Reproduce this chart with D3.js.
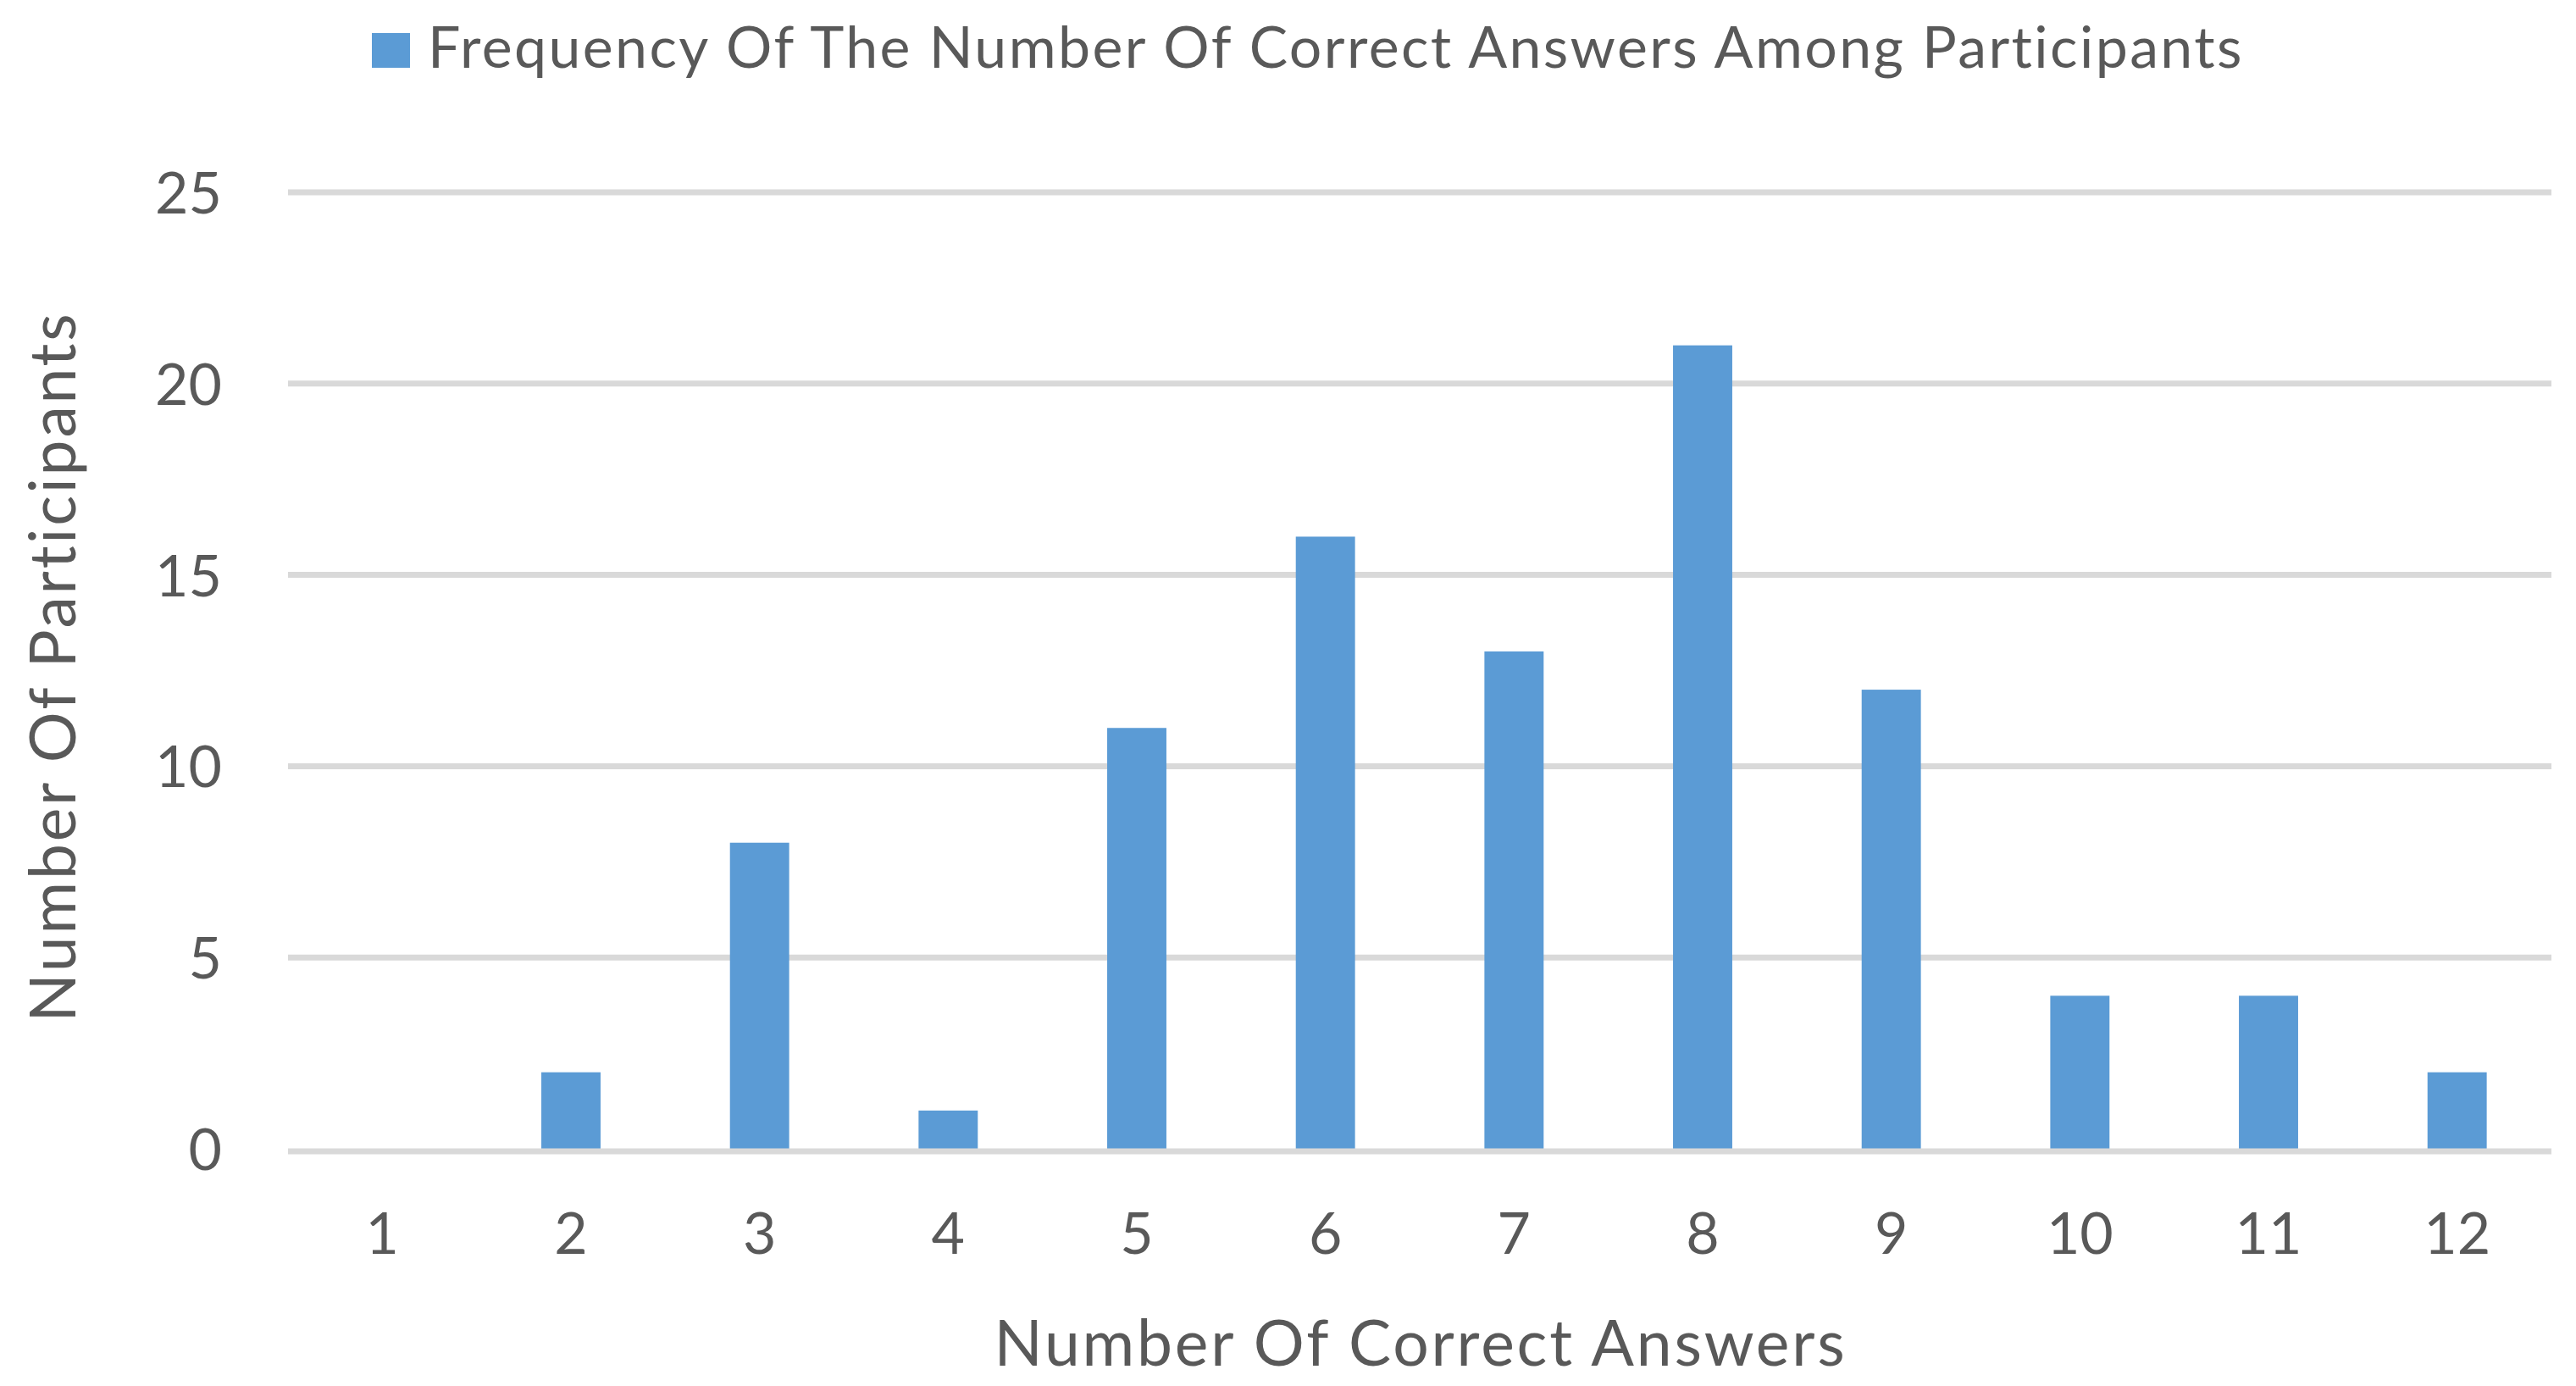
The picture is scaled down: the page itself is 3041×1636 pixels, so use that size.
<!DOCTYPE html>
<html>
<head>
<meta charset="utf-8">
<script src="https://cdn.jsdelivr.net/npm/d3@7"></script>
<style>
  html, body { margin: 0; padding: 0; background: #ffffff; }
  svg { display: block; }
  text { font-family: Lato, "Open Sans", sans-serif; fill: #595959; }
</style>
</head>
<body>
<svg id="chart" width="3041" height="1636"></svg>
<script>
// ---- data ----
const categories = ["1","2","3","4","5","6","7","8","9","10","11","12"];
const participants = [0, 2, 8, 1, 11, 16, 13, 21, 12, 4, 4, 2];
const yTicks = [0, 5, 10, 15, 20, 25];
const seriesName = "Frequency Of The Number Of Correct Answers Among Participants";
const xTitle = "Number Of Correct Answers";
const yTitle = "Number Of Participants";

// ---- layout ----
const W = 3041, H = 1636;
const plot = { left: 340, right: 3012, top: 227, bottom: 1356 };
const barColor = "#5b9bd5";
const gridColor = "#d9d9d9";

const svg = d3.select("#chart");
svg.append("rect").attr("width", W).attr("height", H).attr("fill", "#ffffff");

const x = d3.scaleBand()
  .domain(categories)
  .range([plot.left, plot.right])
  .paddingInner(0.686)
  .paddingOuter(0.343);

const y = d3.scaleLinear()
  .domain([0, 25])
  .range([plot.bottom, plot.top]);

// gridlines (excluding baseline, drawn later)
svg.append("g")
  .selectAll("line")
  .data(yTicks.filter(d => d !== 0))
  .join("line")
  .attr("x1", plot.left).attr("x2", plot.right)
  .attr("y1", d => y(d)).attr("y2", d => y(d))
  .attr("stroke", gridColor)
  .attr("stroke-width", 7);

// bars
svg.append("g")
  .selectAll("rect")
  .data(categories.map((c, i) => ({ c, v: participants[i] })))
  .join("rect")
  .attr("x", d => x(d.c))
  .attr("width", x.bandwidth())
  .attr("y", d => y(d.v))
  .attr("height", d => y(0) - y(d.v))
  .attr("fill", barColor);

// baseline
svg.append("line")
  .attr("x1", plot.left).attr("x2", plot.right)
  .attr("y1", y(0) + 3).attr("y2", y(0) + 3)
  .attr("stroke", gridColor)
  .attr("stroke-width", 7);

// y axis labels
const yAxis = svg.append("g")
  .attr("transform", `translate(${plot.left},0)`)
  .call(d3.axisLeft(y).tickValues(yTicks).tickSize(0).tickPadding(78).tickFormat(d3.format("d")));
yAxis.select(".domain").remove();
yAxis.selectAll("text")
  .attr("dy", "0.36em")
  .style("font-size", "68px")
  .style("font-family", "Lato, 'Open Sans', sans-serif")
  .attr("fill", "#595959");

// x axis labels
const xAxis = svg.append("g")
  .attr("transform", `translate(0,${plot.bottom})`)
  .call(d3.axisBottom(x).tickSize(0).tickPadding(0));
xAxis.select(".domain").remove();
xAxis.selectAll("text")
  .attr("y", 124)
  .attr("dy", null)
  .style("font-size", "68px")
  .style("font-family", "Lato, 'Open Sans', sans-serif")
  .attr("fill", "#595959");

// axis titles
svg.append("text")
  .attr("x", (plot.left + plot.right) / 2 + 1)
  .attr("y", 1612)
  .attr("text-anchor", "middle")
  .style("font-size", "75px")
  .style("letter-spacing", "2.8px")
  .text(xTitle);

svg.append("text")
  .attr("transform", `translate(89,787) rotate(-90)`)
  .attr("text-anchor", "middle")
  .style("font-size", "75px")
  .style("letter-spacing", "2.8px")
  .text(yTitle);

// legend
const legend = svg.append("g");
legend.append("rect")
  .attr("x", 439).attr("y", 39)
  .attr("width", 45).attr("height", 41)
  .attr("fill", barColor);
legend.append("text")
  .attr("x", 505).attr("y", 80)
  .style("font-size", "68px")
  .style("letter-spacing", "2.4px")
  .text(seriesName);
</script>
</body>
</html>
